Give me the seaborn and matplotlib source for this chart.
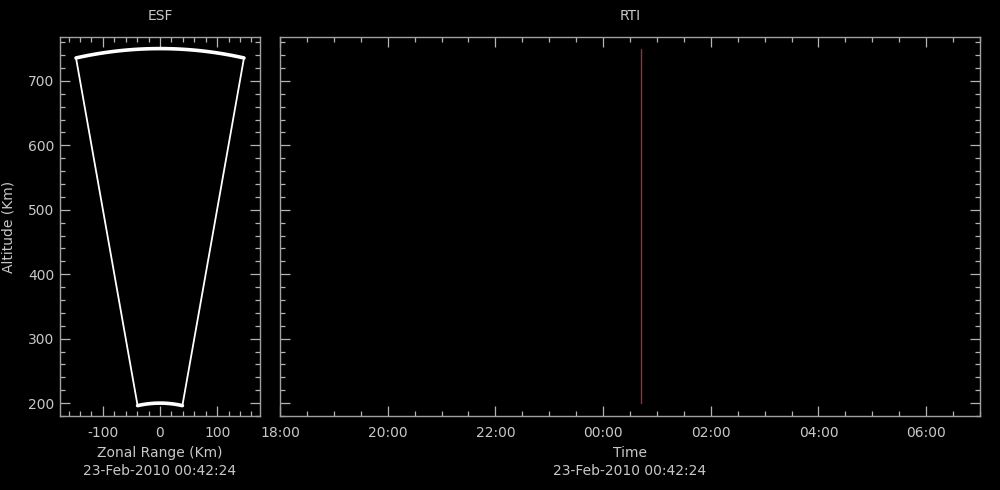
import numpy as np
import pandas as pd
import matplotlib
matplotlib.use('Agg')
import matplotlib.pyplot as plt
import matplotlib.dates as mdates
from matplotlib.ticker import MultipleLocator
import seaborn as sns

# radar beam geometry (ESF panel)
beam_half_angle = 11.3      # degrees
range_min = 200             # km
range_max = 750             # km

# RTI panel
t_start = '2010-02-22 18:00'
t_end = '2010-02-23 07:00'
scan_time = '2010-02-23 00:42:24'
scan_alt = [200, 750]
stamp = '23-Feb-2010 00:42:24'

txt = '#c8c8c8'
sns.set_theme(style='dark', rc={
    'figure.facecolor': 'black', 'axes.facecolor': 'black',
    'axes.edgecolor': '#a0a0a0', 'axes.labelcolor': txt,
    'text.color': txt, 'xtick.color': txt, 'ytick.color': txt,
    'axes.grid': False, 'font.size': 10, 'axes.titlesize': 10,
    'axes.labelsize': 10, 'xtick.labelsize': 10, 'ytick.labelsize': 10,
    'axes.unicode_minus': False,
})
plt.rcParams['font.family'] = ['DejaVu Sans']

fig = plt.figure(figsize=(10, 4.9), dpi=100)
ax1 = fig.add_axes([0.06, 0.151, 0.20, 0.7735])
ax2 = fig.add_axes([0.28, 0.151, 0.70, 0.7735])

# fan outline
th = np.radians(np.linspace(-beam_half_angle, beam_half_angle, 100))
top = pd.DataFrame({'x': range_max * np.sin(th), 'y': range_max * np.cos(th)})
bot = pd.DataFrame({'x': range_min * np.sin(th), 'y': range_min * np.cos(th)})
a = np.radians(beam_half_angle)
left = pd.DataFrame({'x': [-range_min * np.sin(a), -range_max * np.sin(a)],
                     'y': [range_min * np.cos(a), range_max * np.cos(a)]})
right = pd.DataFrame({'x': [range_min * np.sin(a), range_max * np.sin(a)],
                      'y': [range_min * np.cos(a), range_max * np.cos(a)]})
sns.lineplot(data=top, x='x', y='y', sort=False, estimator=None, color='white', lw=2.6, ax=ax1)
sns.lineplot(data=bot, x='x', y='y', sort=False, estimator=None, color='white', lw=2.6, ax=ax1)
sns.lineplot(data=left, x='x', y='y', sort=False, estimator=None, color='white', lw=1.3, ax=ax1)
sns.lineplot(data=right, x='x', y='y', sort=False, estimator=None, color='white', lw=1.3, ax=ax1)
ax1.set_xlim(-175, 175)
ax1.set_ylim(180, 768)
ax1.set_title('ESF', pad=12)
ax1.set_xlabel('Zonal Range (Km)\n' + stamp, linespacing=1.35)
ax1.set_ylabel('Altitude (Km)', labelpad=9)
ax1.xaxis.set_major_locator(MultipleLocator(100))
ax1.xaxis.set_minor_locator(MultipleLocator(20))

# RTI
rti = pd.DataFrame({'t': pd.to_datetime([scan_time, scan_time]), 'alt': scan_alt})
sns.lineplot(data=rti, x='t', y='alt', sort=False, estimator=None,
             color='#a02a36', lw=1.0, ax=ax2)
ax2.set_xlim(pd.Timestamp(t_start), pd.Timestamp(t_end))
ax2.set_ylim(180, 768)
ax2.set_title('RTI', pad=12)
ax2.set_xlabel('Time\n' + stamp, linespacing=1.35)
ax2.set_ylabel('')
ax2.set_yticklabels([])
ax2.xaxis.set_major_locator(mdates.HourLocator(byhour=range(0, 24, 2)))
ax2.xaxis.set_minor_locator(mdates.MinuteLocator(byminute=[0, 30]))
ax2.xaxis.set_major_formatter(mdates.DateFormatter('%H:%M'))

for ax in (ax1, ax2):
    ax.yaxis.set_major_locator(MultipleLocator(100))
    ax.yaxis.set_minor_locator(MultipleLocator(20))
    ax.tick_params(which='both', direction='in', top=True, right=True,
                   bottom=True, left=True, color='#b4b4b4')
    ax.tick_params(which='major', length=7, width=0.9)
    ax.tick_params(which='minor', length=3.5, width=0.9)
    ax.tick_params(axis='x', which='major', pad=7.5)
    ax.tick_params(axis='y', which='major', pad=4)
    for s in ax.spines.values():
        s.set_color('#a0a0a0')
        s.set_linewidth(1.0)

fig.savefig('out.png', dpi=100, facecolor='black')
